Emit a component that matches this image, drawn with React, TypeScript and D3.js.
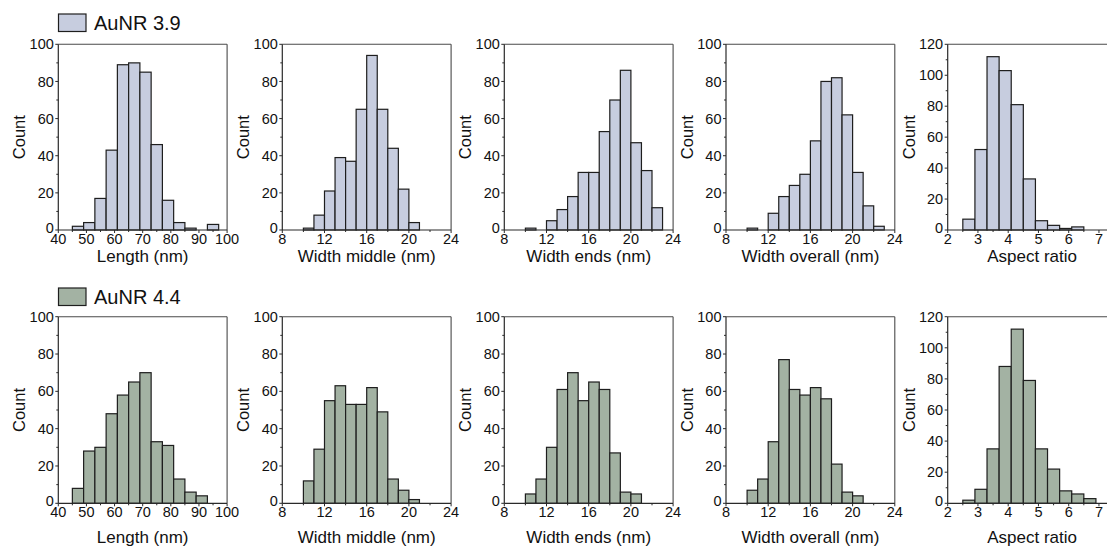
import React from "react";
import * as d3 from "d3";

// ---------- data ----------
const seriesNames = ["AuNR 3.9", "AuNR 4.4"];
const xLabels = ["Length (nm)", "Width middle (nm)", "Width ends (nm)", "Width overall (nm)", "Aspect ratio"];
const binStarts = [45, 10, 10, 10, 2.5];
const binWidths = [4, 1, 1, 1, 0.4];
const xDomains: [number, number][] = [[40, 100], [8, 24], [8, 24], [8, 24], [2, 7.58]];
const xMajor = [
  [40, 50, 60, 70, 80, 90, 100],
  [8, 12, 16, 20, 24],
  [8, 12, 16, 20, 24],
  [8, 12, 16, 20, 24],
  [2, 3, 4, 5, 6, 7],
];
const xMinor = [
  [45, 55, 65, 75, 85, 95],
  [10, 14, 18, 22],
  [10, 14, 18, 22],
  [10, 14, 18, 22],
  [2.5, 3.5, 4.5, 5.5, 6.5, 7.5],
];
const yMaxes = [100, 100, 100, 100, 120];

// AuNR 3.9
const lengthA = [2, 4, 17, 43, 89, 90, 85, 46, 16, 4, 1, 0, 3];
const widthMiddleA = [1, 8, 21, 39, 37, 65, 94, 65, 44, 22, 4];
const widthEndsA = [1, 0, 5, 11, 18, 31, 31, 53, 70, 86, 47, 32, 12];
const widthOverallA = [1, 0, 9, 18, 24, 30, 48, 80, 82, 62, 31, 13, 2];
const aspectA = [7, 52, 112, 103, 81, 33, 6, 3, 1, 2];
// AuNR 4.4
const lengthB = [8, 28, 30, 48, 58, 65, 70, 33, 31, 13, 6, 4];
const widthMiddleB = [12, 29, 55, 63, 53, 53, 62, 49, 13, 7, 2];
const widthEndsB = [5, 13, 30, 61, 70, 55, 65, 61, 27, 6, 5];
const widthOverallB = [7, 13, 33, 77, 61, 58, 62, 56, 21, 6, 4];
const aspectB = [2, 9, 35, 88, 112, 79, 35, 22, 8, 6, 3];

const rowsData = [
  [lengthA, widthMiddleA, widthEndsA, widthOverallA, aspectA],
  [lengthB, widthMiddleB, widthEndsB, widthOverallB, aspectB],
];

// ---------- layout ----------
const W = 1107;
const H = 549;
const panelLefts = [58.3, 282.3, 504.3, 726, 947.7];
const plotW = 168.8;
const rowTops = [44.3, 316.7];
const rowBottoms = [230, 503.3];
const xLabelOffsets = [31.5, 39.5];
const fills = ["#c7cddf", "#a3b2a3"];
const FONT = "Arial, 'Liberation Sans', Helvetica, sans-serif";
const AX = "#2a2a2a";

function Panel({ row, col }: { row: number; col: number }) {
  const left = panelLefts[col];
  const top = rowTops[row];
  const bottom = rowBottoms[row];
  const counts = rowsData[row][col];
  const x = d3.scaleLinear().domain(xDomains[col]).range([left, left + plotW]);
  const y = d3.scaleLinear().domain([0, yMaxes[col]]).range([bottom, top]);
  const yMajor = d3.range(0, yMaxes[col] + 1, 20);
  const yMinor = d3.range(10, yMaxes[col], 20);
  const bw = binWidths[col];
  const bs = binStarts[col];
  const right = x(xDomains[col][1]);
  return (
    <g>
      {counts.map((c, i) =>
        c > 0 ? (
          <rect
            key={i}
            x={x(bs + i * bw)}
            y={y(c)}
            width={x(bs + (i + 1) * bw) - x(bs + i * bw)}
            height={y(0) - y(c)}
            fill={fills[row]}
            stroke="#1e1e1e"
            strokeWidth={1.2}
          />
        ) : null
      )}
      {/* frame */}
      <line x1={left} x2={right} y1={top} y2={top} stroke="#4a4a4a" strokeWidth={1.1} />
      <line x1={right} x2={right} y1={top} y2={bottom} stroke="#4a4a4a" strokeWidth={1.1} />
      <line x1={left} x2={left} y1={top} y2={bottom} stroke={AX} strokeWidth={1.2} />
      <line x1={left} x2={right} y1={bottom} y2={bottom} stroke={AX} strokeWidth={1.2} />
      {/* y ticks */}
      {yMajor.map((v) => (
        <g key={"ym" + v}>
          <line x1={left - 3} x2={left} y1={y(v)} y2={y(v)} stroke={AX} strokeWidth={1} />
          <text x={left - 4.5} y={y(v) - (v === 0 ? 2.5 : 0)} dy="0.35em" textAnchor="end" fontSize={14.5} fontFamily={FONT} fill="#111">
            {v}
          </text>
        </g>
      ))}
      {yMinor.map((v) => (
        <line key={"yn" + v} x1={left - 2} x2={left} y1={y(v)} y2={y(v)} stroke={AX} strokeWidth={1} />
      ))}
      {/* x ticks */}
      {xMajor[col].map((v) => (
        <g key={"xm" + v}>
          <line x1={x(v)} x2={x(v)} y1={bottom} y2={bottom + 3} stroke={AX} strokeWidth={1} />
          <text x={x(v)} y={bottom + 13.5} textAnchor="middle" fontSize={14.5} fontFamily={FONT} fill="#111">
            {v}
          </text>
        </g>
      ))}
      {xMinor[col].map((v) => (
        <line key={"xn" + v} x1={x(v)} x2={x(v)} y1={bottom} y2={bottom + 2} stroke={AX} strokeWidth={1} />
      ))}
      {/* axis titles */}
      <text
        transform={`translate(${left - 33},${(top + bottom) / 2}) rotate(-90)`}
        textAnchor="middle"
        fontSize={16.5}
        fontFamily={FONT}
        fill="#111"
      >
        Count
      </text>
      <text
        x={left + plotW / 2}
        y={bottom + xLabelOffsets[row]}
        textAnchor="middle"
        fontSize={17}
        fontFamily={FONT}
        fill="#111"
      >
        {xLabels[col]}
      </text>
    </g>
  );
}

export default function App() {
  const legendY = [14, 288];
  return (
    <svg
      width={W}
      height={H}
      viewBox={`0 0 ${W} ${H}`}
      style={{ position: "absolute", left: 0, top: 0, display: "block", background: "#fff" }}
    >
      <rect x={0} y={0} width={W} height={H} fill="#fff" />
      {[0, 1].map((row) => (
        <g key={row}>
          <rect x={58.5} y={legendY[row]} width={27.5} height={17.5} fill={fills[row]} stroke="#1e1e1e" strokeWidth={1.2} />
          <text x={94} y={legendY[row] + 16} fontSize={20} fontFamily={FONT} fill="#111">
            {seriesNames[row]}
          </text>
          {[0, 1, 2, 3, 4].map((col) => (
            <Panel key={col} row={row} col={col} />
          ))}
        </g>
      ))}
    </svg>
  );
}
